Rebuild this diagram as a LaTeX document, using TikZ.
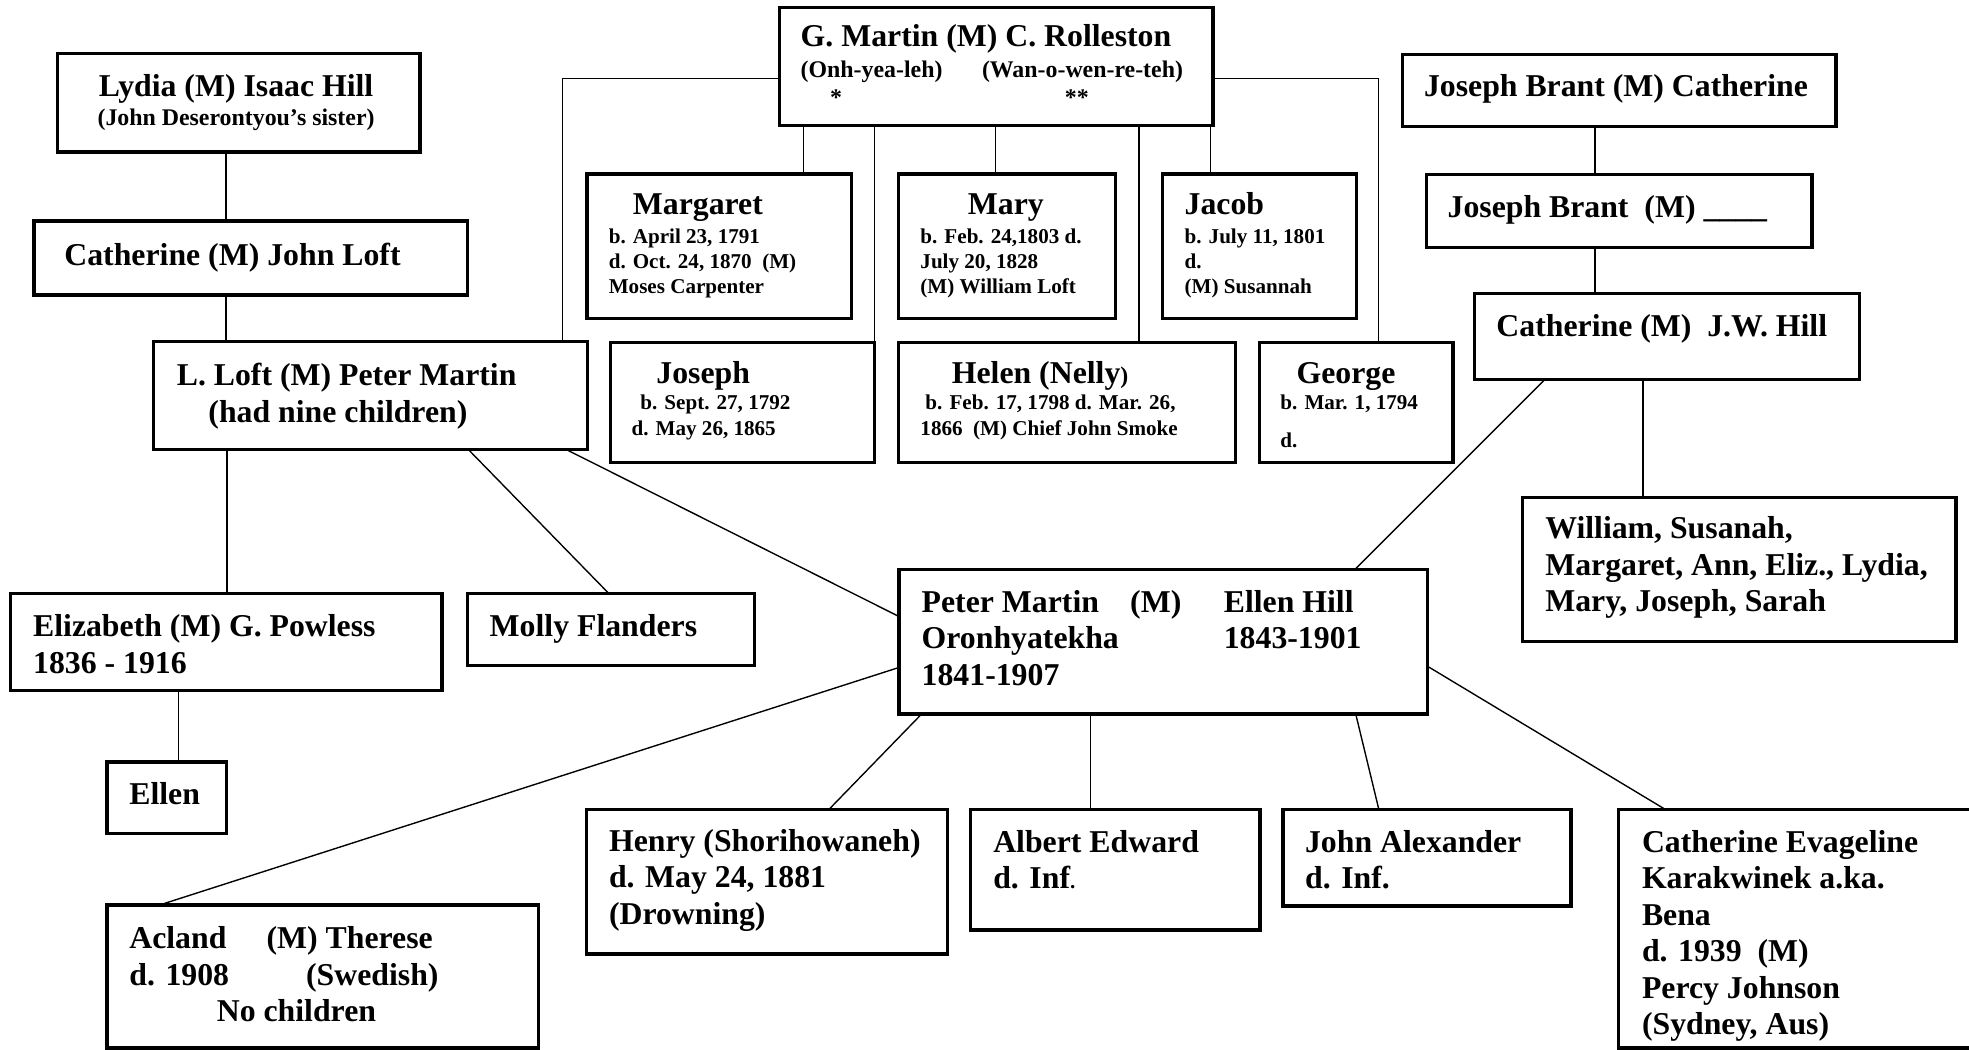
\documentclass[tikz,border=0pt]{standalone}
\usepackage{fontspec}
\setmainfont{Liberation Serif}
\newcommand\fbig{\fontsize{25.3}{29.1}\selectfont\bfseries}
\newcommand\fsm{\fontsize{19}{22}\selectfont\bfseries}
\newcommand\fdet{\fontsize{16.8}{19.8}\selectfont\bfseries}
\newcommand\ml[1]{\begin{tabular}[t]{@{}l@{}}#1\end{tabular}}
\tikzset{
  box/.style={draw, line width=2.6pt, rectangle, inner sep=0pt, outer sep=0pt},
  conn/.style={line width=1.1pt},
  txt/.style={anchor=base west, inner sep=0pt, outer sep=0pt},
  ctxt/.style={anchor=base, inner sep=0pt, outer sep=0pt}
}
% box from corner (x1,y1) to (x2,y2)
\newcommand\bx[5]{\path (#2,#3) node[box, anchor=north west, minimum width=#4pt-#2pt, minimum height=#5pt-#3pt] (#1) {};}
\begin{document}
\begin{tikzpicture}[x=1pt,y=-1pt]
\useasboundingbox[fill=white] (0,0) rectangle (1568,836);

% ---- boxes ----
\bx{lydia}{46}{42.5}{334.5}{121}
\bx{cjl}{27}{176}{372}{235}
\bx{lloft}{122}{272}{468}{358}
\bx{gmartin}{621}{6}{966}{100}
\bx{margaret}{467.5}{138.6}{678}{253.6}
\bx{mary}{715.7}{138.6}{888.5}{253.6}
\bx{jacob}{926}{138.6}{1080}{253.6}
\bx{joseph}{486}{272.6}{696.5}{368.5}
\bx{helen}{715.7}{272.6}{983.6}{368.5}
\bx{george}{1002.7}{272.6}{1157}{368.5}
\bx{jbone}{1117}{43.6}{1462}{100.5}
\bx{jbtwo}{1136}{139}{1443}{197}
\bx{jwhill}{1174}{234}{1481}{302}
\bx{william}{1212.6}{396}{1557.6}{511}
\bx{peter}{716}{453.5}{1136.5}{568.5}
\bx{eliz}{8.6}{472.8}{352}{549.6}
\bx{molly}{372.3}{472.8}{600.9}{530}
\bx{ellen}{85.3}{606.8}{180.3}{664}
\bx{acland}{85.3}{720.7}{429}{834.5}
\bx{henry}{467.3}{644.7}{754.3}{759.7}
\bx{albert}{772.7}{644.5}{1003.4}{740.6}
\bx{johna}{1021.6}{644.5}{1251}{721.5}
\bx{cathe}{1288.8}{644.5}{1578}{834.5}

% ---- connectors ----
\draw[conn] (lydia.south -| 180,0) -- (cjl.north -| 180,0);
\draw[conn] (cjl.south -| 180,0) -- (lloft.north -| 180,0);
\draw[conn] (lloft.south -| 180.8,0) -- (eliz.north -| 180.8,0);
\draw[conn] (lloft.south -| 373,0) -- (molly.north -| 485,0);
\draw[conn] (lloft.south -| 451,0) -- (peter.west |- 0,491);
\draw[conn] (peter.west |- 0,531.5) -- (acland.north -| 127,0);
\draw[conn] (peter.south -| 734,0) -- (henry.north -| 660,0);
\draw[conn] (peter.south -| 868.4,0) -- (albert.north -| 868.4,0);
\draw[conn] (peter.south -| 1079.6,0) -- (johna.north -| 1098,0);
\draw[conn] (peter.east |- 0,530.4) -- (cathe.north -| 1326,0);
\draw[conn] (jwhill.south -| 1230.5,0) -- (peter.north -| 1079,0);
\draw[conn] (jwhill.south -| 1308.5,0) -- (william.north -| 1308.5,0);
\draw[conn] (jbone.south -| 1270,0) -- (jbtwo.north -| 1270,0);
\draw[conn] (jbtwo.south -| 1270,0) -- (jwhill.north -| 1270,0);
\draw[conn] (eliz.south -| 142.2,0) -- (ellen.north -| 142.2,0);
\draw[conn] (gmartin.west |- 0,62.4) -| (lloft.north -| 448,0);
\draw[conn] (gmartin.south -| 640,0) -- (margaret.north -| 640,0);
\draw[conn] (gmartin.south -| 696.5,0) -- (joseph.north east);
\draw[conn] (gmartin.south -| 792.6,0) -- (mary.north -| 792.6,0);
\draw[conn] (gmartin.south -| 907,0) -- (helen.north -| 907,0);
\draw[conn] (gmartin.south -| 964,0) -- (jacob.north -| 964,0);
\draw[conn] (gmartin.east |- 0,62.4) -| (george.north -| 1097.5,0);

% ---- texts ----
\node[ctxt] (lydia-a) at (188,77) {\fbig Lydia (M) Isaac Hill};
\node[ctxt] (lydia-b) at (188,100.3) {\fsm (John Deserontyou’s sister)};
\node[txt] (cjl-a) at (51.3,211.4) {\fbig Catherine (M) John Loft};
\node[txt] (lloft-a) at (140.8,307) {\fbig L. Loft (M) Peter Martin};
\node[txt] (lloft-b) at (166,336.2) {\fbig (had nine children)};

\node[txt] (gm-a) at (637.6,37.2) {\fbig G. Martin (M) C. Rolleston};
\node[txt] (gm-b) at (637.6,61.5) {\fsm (Onh-yea-leh)};
\node[txt] (gm-c) at (782,61.5) {\fsm (Wan-o-wen-re-teh)};
\node[txt] (gm-d) at (661,84) {\fsm *};
\node[txt] (gm-e) at (848,84) {\fsm **};

\node[txt] (mg-a) at (504,171) {\fbig Margaret};
\node[txt] (mg-b) at (484.8,194) {\fdet\ml{b. April 23, 1791\\ d. Oct. 24, 1870~~(M)\\ Moses Carpenter}};
\node[ctxt] (my-a) at (801,171) {\fbig Mary};
\node[txt] (my-b) at (733,194) {\fdet\ml{b. Feb. 24,1803 d.\\ July 20, 1828\\ (M) William Loft}};
\node[txt] (jc-a) at (943.4,171) {\fbig Jacob};
\node[txt] (jc-b) at (943.4,194) {\fdet\ml{b. July 11, 1801\\ d.\\ (M) Susannah}};

\node[txt] (js-a) at (522.7,305) {\fbig Joseph};
\node[txt] (js-b) at (510,326) {\fdet b. Sept. 27, 1792};
\node[txt] (js-c) at (503,346.5) {\fdet d. May 26, 1865};
\node[txt] (hl-a) at (758,305) {\fbig Helen (Nelly{\fsm )}};
\node[txt] (hl-b) at (737,326) {\fdet b. Feb. 17, 1798 d. Mar. 26,};
\node[txt] (hl-c) at (733,346.5) {\fdet 1866~~(M) Chief John Smoke};
\node[txt] (gg-a) at (1032.5,305) {\fbig George};
\node[txt] (gg-b) at (1019.7,326) {\fdet b. Mar. 1, 1794};
\node[txt] (gg-c) at (1019.7,356) {\fdet d.};

\node[txt] (jb1-a) at (1134,77) {\fbig Joseph Brant (M) Catherine};
\node[txt] (jb2-a) at (1152.8,173.4) {\fbig Joseph Brant~~(M) \_\_\_\_};
\node[txt] (jw-a) at (1191.7,268) {\fbig Catherine (M)~~J.W. Hill};
\node[txt] (wm-a) at (1230.6,429) {\fbig\ml{William, Susanah,\\ Margaret, Ann, Eliz., Lydia,\\ Mary, Joseph, Sarah}};

\node[txt] (pm-a) at (734,487.4) {\fbig\ml{Peter Martin\\ Oronhyatekha\\ 1841-1907}};
\node[txt] (pm-b) at (900,487.4) {\fbig (M)};
\node[txt] (pm-c) at (974.6,487.4) {\fbig\ml{Ellen Hill\\ 1843-1901}};

\node[txt] (el-a) at (26.4,507) {\fbig\ml{Elizabeth (M) G. Powless\\ 1836 - 1916}};
\node[txt] (mo-a) at (390,507) {\fbig Molly Flanders};
\node[txt] (en-a) at (103,640.4) {\fbig Ellen};

\node[txt] (ac-a) at (103,755.4) {\fbig\ml{Acland\\ d. 1908}};
\node[txt] (ac-b) at (212.3,755.4) {\fbig (M) Therese};
\node[txt] (ac-c) at (243.8,784.5) {\fbig (Swedish)};
\node[txt] (ac-d) at (172.7,813.6) {\fbig No children};

\node[txt] (hn-a) at (485,678) {\fbig\ml{Henry (Shorihowaneh)\\ d. May 24, 1881\\ (Drowning)}};
\node[txt] (ab-a) at (791,678.5) {\fbig\ml{Albert Edward\\ d. Inf{\fdet .}}};
\node[txt] (ja-a) at (1039.3,678.5) {\fbig\ml{John Alexander\\ d. Inf.}};
\node[txt] (ce-a) at (1307.6,678.5) {\fbig\ml{Catherine Evageline\\ Karakwinek a.ka.\\ Bena\\ d. 1939~~(M)\\ Percy Johnson\\ (Sydney, Aus)}};
\end{tikzpicture}
\end{document}
